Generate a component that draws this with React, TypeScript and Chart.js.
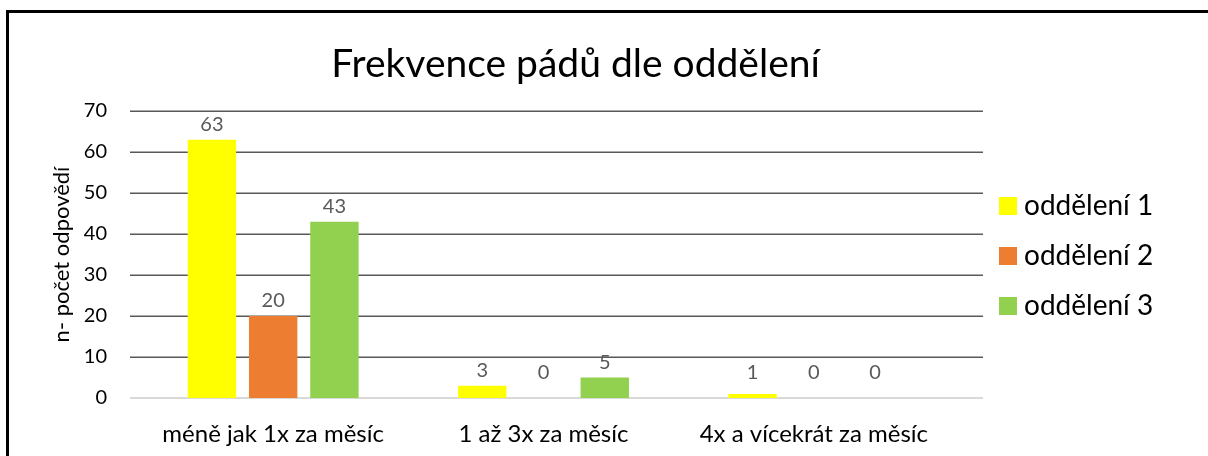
import React, { useEffect, useRef } from "react";
import { Chart, registerables } from "chart.js";

Chart.register(...registerables);

// ---- data ----
const chartTitle = "Frekvence pádů dle oddělení";
const yAxisTitle = "n- počet odpovědí";
const categories = ["méně jak 1x za měsíc", "1 až 3x za měsíc", "4x a vícekrát za měsíc"];
const seriesNames = ["oddělení 1", "oddělení 2", "oddělení 3"];
const dept1Values = [63, 3, 1];
const dept2Values = [20, 0, 0];
const dept3Values = [43, 5, 0];
const seriesColors = ["#FFFF00", "#ED7D31", "#92D050"];
const yMin = 0;
const yMax = 70;
const yStep = 10;

const FONT = "Lato, 'Open Sans', sans-serif";

const titlePlugin = {
  id: "centerTitle",
  afterDraw(chart: any) {
    const { ctx } = chart;
    ctx.save();
    ctx.font = `39px ${FONT}`;
    ctx.fillStyle = "#000";
    ctx.textAlign = "center";
    ctx.textBaseline = "alphabetic";
    ctx.fillText(chartTitle, 575.5, 77);
    ctx.restore();
  },
};

const gridPlugin = {
  id: "excelGrid",
  beforeDatasetsDraw(chart: any) {
    const { ctx } = chart;
    const y = chart.scales.y;
    ctx.save();
    y.ticks.forEach((t: any) => {
      const py = Math.round(y.getPixelForValue(t.value));
      ctx.beginPath();
      if (t.value === 0) {
        ctx.strokeStyle = "#d9d9d9";
        ctx.lineWidth = 2;
        ctx.moveTo(130, py);
        ctx.lineTo(983, py);
      } else {
        ctx.strokeStyle = "#595959";
        ctx.lineWidth = 1.5;
        ctx.moveTo(130, py + 0.25);
        ctx.lineTo(983, py + 0.25);
      }
      ctx.stroke();
    });
    ctx.restore();
  },
};

const valueLabelPlugin = {
  id: "valueLabels",
  afterDatasetsDraw(chart: any) {
    const { ctx } = chart;
    const zero = chart.scales.y.getPixelForValue(0);
    ctx.save();
    ctx.font = `20px ${FONT}`;
    ctx.fillStyle = "#595959";
    ctx.textAlign = "center";
    ctx.textBaseline = "alphabetic";
    chart.data.datasets.forEach((ds: any, i: number) => {
      const meta = chart.getDatasetMeta(i);
      meta.data.forEach((el: any, j: number) => {
        const yPos = Math.min(el.y - 9, zero - 19);
        ctx.fillText(String(ds.data[j]), el.x, yPos);
      });
    });
    ctx.restore();
  },
};

const legendPlugin = {
  id: "sideLegend",
  afterDraw(chart: any) {
    const { ctx } = chart;
    ctx.save();
    ctx.font = `28px ${FONT}`;
    ctx.textBaseline = "middle";
    ctx.textAlign = "left";
    chart.data.datasets.forEach((ds: any, i: number) => {
      const cy = 206 + i * 50;
      ctx.fillStyle = ds.backgroundColor;
      ctx.fillRect(999, cy - 9, 18, 18);
      ctx.fillStyle = "#000";
      ctx.fillText(ds.label, 1024, cy);
    });
    ctx.restore();
  },
};

export default function App() {
  const ref = useRef<HTMLCanvasElement>(null);

  useEffect(() => {
    if (!ref.current) return;
    const values = [dept1Values, dept2Values, dept3Values];
    const chart = new Chart(ref.current, {
      type: "bar",
      data: {
        labels: categories,
        datasets: seriesNames.map((name, i) => ({
          label: name,
          data: values[i],
          backgroundColor: seriesColors[i],
          borderWidth: 0,
          categoryPercentage: 0.68,
          barPercentage: 0.79,
        })),
      },
      options: {
        responsive: false,
        devicePixelRatio: 1,
        animation: false,
        layout: { padding: { left: 0, right: 259, top: 111, bottom: 0 } },
        plugins: {
          legend: { display: false },
          tooltip: { enabled: false },
          title: { display: false },
        },
        scales: {
          x: {
            grid: { display: false, drawTicks: false },
            border: { display: false },
            ticks: {
              color: "#000",
              font: { family: FONT, size: 24 },
              padding: 22,
              maxRotation: 0,
              autoSkip: false,
            },
            afterFit(scale: any) {
              scale.height = 58;
            },
          },
          y: {
            min: yMin,
            max: yMax,
            grid: { display: false, drawTicks: false },
            border: { display: false },
            ticks: {
              stepSize: yStep,
              color: "#000",
              font: { family: FONT, size: 20 },
              padding: 31,
            },
            title: {
              display: true,
              text: yAxisTitle,
              color: "#000",
              font: { family: FONT, size: 22 },
              padding: { top: 49, bottom: 0 },
            },
            afterFit(scale: any) {
              scale.width = 138;
            },
          },
        },
      },
      plugins: [gridPlugin, valueLabelPlugin, legendPlugin, titlePlugin],
    } as any);
    return () => chart.destroy();
  }, []);

  return (
    <div style={{ position: "fixed", left: 0, top: 0, width: 1208, height: 456, background: "#fff", overflow: "hidden" }}>
      <div
        style={{
          position: "absolute",
          left: 6,
          top: 10,
          width: 1300,
          height: 600,
          borderLeft: "3px solid #000",
          borderTop: "3px solid #000",
        }}
      />
      <canvas ref={ref} width={1208} height={456} style={{ position: "absolute", left: 0, top: 0 }} />
    </div>
  );
}
